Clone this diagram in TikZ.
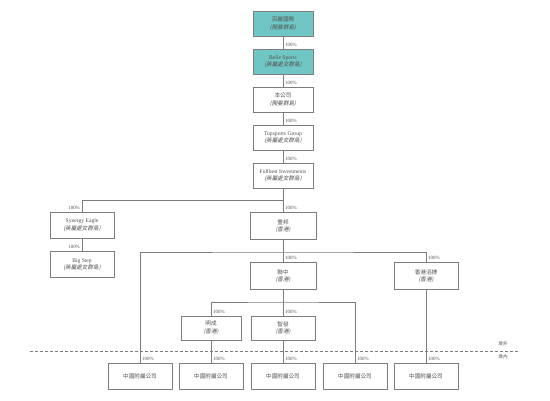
\documentclass[tikz,border=0pt]{standalone}
\usepackage{fontspec}
\setmainfont{Liberation Serif}
\newfontfamily\cjk{Noto Sans CJK TC}
\newfontfamily\cjkit[FakeSlant=0.2]{Noto Sans CJK TC}
\definecolor{tealbox}{RGB}{112,198,196}
\definecolor{linecol}{RGB}{125,125,125}
\definecolor{txtcol}{RGB}{80,80,80}
\begin{document}
\begin{tikzpicture}[x=1pt,y=-1pt,
  box/.style={draw=linecol, line width=0.6pt, fill=white, minimum width=64pt, minimum height=26pt,
    inner sep=0pt, align=center, text=txtcol, font=\fontsize{5.6}{7.6}\selectfont},
  topbox/.style={box, minimum width=60pt, minimum height=25pt},
  tealfill/.style={fill=tealbox},
  conn/.style={draw=linecol, line width=0.6pt},
  pct/.style={inner sep=1pt, text=txtcol, font=\fontsize{4.9}{5.5}\selectfont},
  zone/.style={inner sep=0pt, text=txtcol, font=\cjk\fontsize{4.6}{5.5}\selectfont}]
\useasboundingbox (0,0) rectangle (550,401);
% top chain
\node[topbox,tealfill] (n1) at (283,23.5) {{\cjk 百麗國際}\\{\cjkit (開曼群島)}};
\node[topbox,tealfill] (n2) at (283,61.5) {Belle Sports\\{\cjkit (英屬處女群島)}};
\node[topbox] (n3) at (283,99.5) {{\cjk 本公司}\\{\cjkit (開曼群島)}};
\node[topbox] (n4) at (283,137.5) {Topsports Group\\{\cjkit (英屬處女群島)}};
\node[topbox] (n5) at (283,175.5) {Fullbest Investments\\{\cjkit (英屬處女群島)}};
% second level
\node[box] (se) at (82,225) {Synergy Eagle\\{\cjkit (英屬處女群島)}};
\node[box] (bs) at (82,264.5) {Big Step\\{\cjkit (英屬處女群島)}};
\node[box, minimum width=66pt, minimum height=27pt] (fb) at (283,226) {{\cjk 豐邦}\\{\cjkit (香港)}};
\node[box, minimum width=66pt, minimum height=27pt] (lz) at (283,276) {{\cjk 聯中}\\{\cjkit (香港)}};
\node[box, minimum height=27pt] (hk) at (426,276) {{\cjk 香港滔搏}\\{\cjkit (香港)}};
\node[box, minimum width=60pt, minimum height=24pt] (mc) at (211,328) {{\cjk 明成}\\{\cjkit (香港)}};
\node[box, minimum height=24pt] (zf) at (283,328) {{\cjk 智發}\\{\cjkit (香港)}};
% bottom
\foreach \i/\x in {1/140,2/211,3/283,4/355,5/426}{
  \node[box] (b\i) at (\x,376.5) {\cjk 中國附屬公司};
}
% junction coordinates
\coordinate (j1) at (283,200);
\coordinate (j2) at (283,252);
\coordinate (j3) at (283,302);
% connectors
\draw[conn] (n1) -- (n2);
\draw[conn] (n2) -- (n3);
\draw[conn] (n3) -- (n4);
\draw[conn] (n4) -- (n5);
\draw[conn] (n5) -- (fb);
\draw[conn] (j1) -| (se.north);
\draw[conn] (se) -- (bs);
\draw[conn] (fb) -- (lz);
\draw[conn] (b1.north) |- (j2) -| (hk.north);
\draw[conn] (lz) -- (zf);
\draw[conn] (mc.north) |- (j3) -| (b4.north);
\draw[conn] (mc) -- (b2);
\draw[conn] (zf) -- (b3);
\draw[conn] (hk) -- (b5);
% percentage labels
\foreach \n in {n2,n3,n4,n5,fb,lz,hk,mc,zf,b1,b2,b3,b4,b5}{
  \node[pct, anchor=south west] at ([xshift=1pt,yshift=1pt]\n.north) {100\%};
}
\foreach \n in {se,bs}{
  \node[pct, anchor=south east] at ([xshift=-1pt,yshift=1pt]\n.north) {100\%};
}
% border line
\coordinate (dl) at (30,351);
\coordinate (dr) at (518,351);
\draw[draw=linecol, line width=0.6pt, dash pattern=on 3pt off 2pt] (dl) -- (dr);
\node[zone] (out) at (503,344) {境外};
\node[zone] (in) at (503,357) {境內};
\end{tikzpicture}
\end{document}
